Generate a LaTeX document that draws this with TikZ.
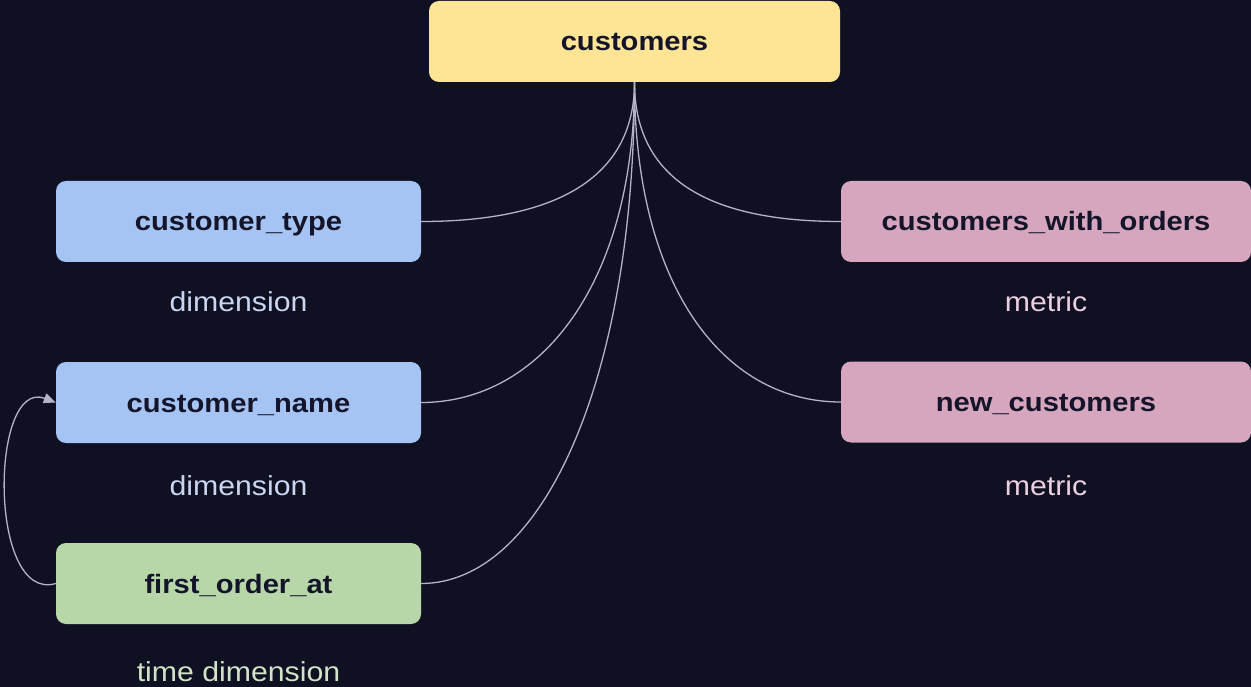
\documentclass[tikz,border=0pt]{standalone}
\usepackage{fontspec}
\setmainfont[FakeStretch=1.1]{Liberation Sans}
\usetikzlibrary{arrows.meta}
\definecolor{bg}{HTML}{0F1022}
\definecolor{yel}{HTML}{FEE596}
\definecolor{blu}{HTML}{A5C4F3}
\definecolor{grn}{HTML}{B7D7A8}
\definecolor{pnk}{HTML}{D5A6BD}
\definecolor{ink}{HTML}{14142A}
\definecolor{edge}{HTML}{B4B4C8}
\definecolor{lblu}{HTML}{C8D6F2}
\definecolor{lpnk}{HTML}{EACFE0}
\definecolor{lgrn}{HTML}{D2E4C8}
\tikzset{
  box/.style={rounded corners=10pt, minimum height=81pt, inner sep=0pt, text=ink, text height=19pt, text depth=0pt, font=\fontsize{26.5}{30}\selectfont\bfseries},
  sbox/.style={box, minimum width=365pt},
  wbox/.style={box, minimum width=410pt},
  lab/.style={font=\fontsize{27.5}{30}\selectfont},
  link/.style={draw=edge, line width=1.3pt},
}
\begin{document}
\begin{tikzpicture}[x=1pt,y=-1pt]
\fill[bg] (0,0) rectangle (1251,687);
\useasboundingbox (0,0) rectangle (1251,687);
\node[box, minimum width=411pt, fill=yel] (cust) at (634.5,41.5) {customers};
\node[sbox, fill=blu] (ctype) at (238.5,221.5) {customer\_type};
\node[sbox, fill=blu] (cname) at (238.5,402.5) {customer\_name};
\node[sbox, fill=grn] (first) at (238.5,583.5) {first\_order\_at};
\node[wbox, fill=pnk] (cwo) at (1046,221.5) {customers\_with\_orders};
\node[wbox, fill=pnk] (newc) at (1046,402) {new\_customers};
\node[lab, text=lblu] (l1) at (238.5,302) {dimension};
\node[lab, text=lblu] (l2) at (238.5,486) {dimension};
\node[lab, text=lgrn] (l3) at (238.5,672) {time dimension};
\node[lab, text=lpnk] (l4) at (1046,302) {metric};
\node[lab, text=lpnk] (l5) at (1046,486) {metric};
\draw[link] (cust.south) .. controls ([yshift=-110pt]cust.south) and ([xshift=110pt]ctype.east) .. (ctype.east);
\draw[link] (cust.south) .. controls ([yshift=-200pt]cust.south) and ([xshift=120pt]cname.east) .. (cname.east);
\draw[link] (cust.south) .. controls ([yshift=-300pt]cust.south) and ([xshift=120pt]first.east) .. (first.east);
\draw[link] (cust.south) .. controls ([yshift=-110pt]cust.south) and ([xshift=-110pt]cwo.west) .. (cwo.west);
\draw[link] (cust.south) .. controls ([yshift=-200pt]cust.south) and ([xshift=-120pt]newc.west) .. (newc.west);
\draw[link, -{Triangle[length=12pt,width=10pt]}] (first.west) .. controls ([xshift=-68pt,yshift=-20pt]first.west) and ([xshift=-66pt,yshift=25pt]cname.west) .. (cname.west);
\end{tikzpicture}
\end{document}
